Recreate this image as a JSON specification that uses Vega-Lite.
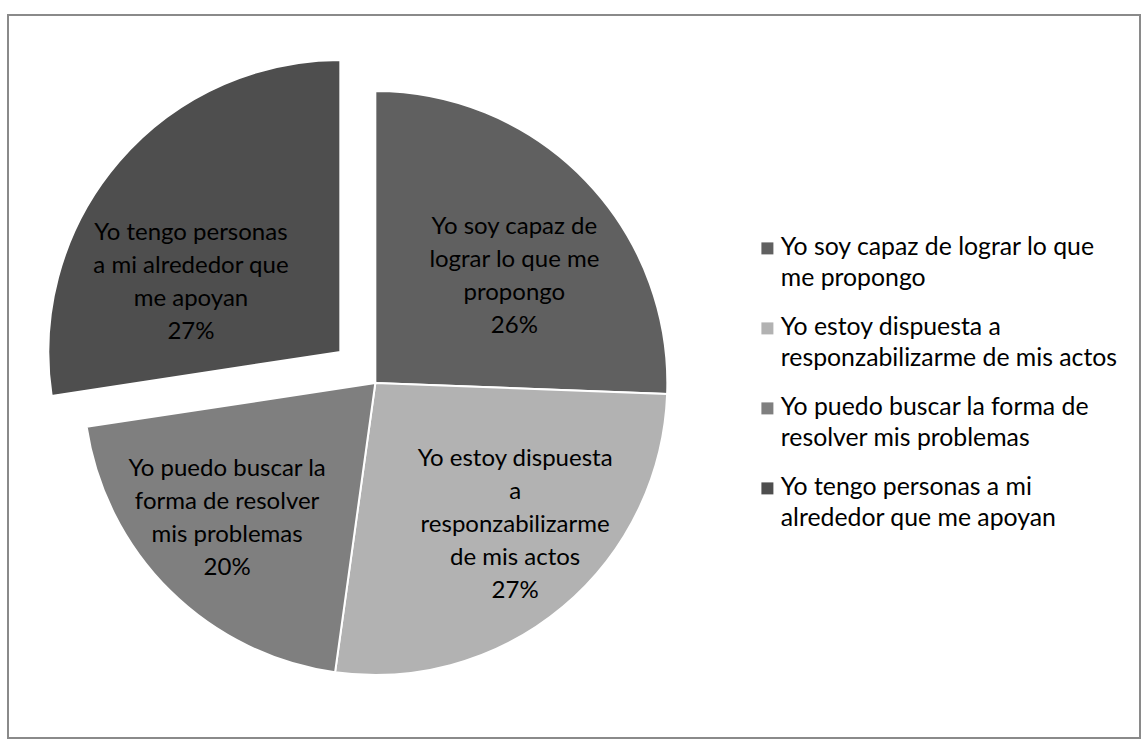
{
  "$schema": "https://vega.github.io/schema/vega-lite/v6.json",
  "width": 1148,
  "height": 753,
  "autosize": {"type": "fit", "contains": "padding"},
  "padding": {"left": 7, "top": 14, "right": 7, "bottom": 14},
  "background": "white",
  "config": {
    "view": {"stroke": null},
    "font": "Lato",
    "style": {"guide-label": {"lineHeight": 31}}
  },
  "data": {
    "values": [
      {"orden": 1, "categoria": "Yo soy capaz de lograr lo que\nme propongo", "valor": 25.6, "etiqueta": "Yo soy capaz de\nlograr lo que me\npropongo\n26%"},
      {"orden": 2, "categoria": "Yo estoy dispuesta a\nresponzabilizarme de mis actos", "valor": 26.6, "etiqueta": "Yo estoy dispuesta\na\nresponzabilizarme\nde mis actos\n27%"},
      {"orden": 3, "categoria": "Yo puedo buscar la forma de\nresolver mis problemas", "valor": 20.4, "etiqueta": "Yo puedo buscar la\nforma de resolver\nmis problemas\n20%"},
      {"orden": 4, "categoria": "Yo tengo personas a mi\nalrededor que me apoyan", "valor": 27.4, "etiqueta": "Yo tengo personas\na mi alrededor que\nme apoyan\n27%"}
    ]
  },
  "layer": [
    {
      "data": {"values": [{}]},
      "mark": {"type": "rect", "fill": "transparent", "stroke": "#8a8a8a", "strokeWidth": 2},
      "encoding": {
        "x": {"value": 0},
        "x2": {"value": "width"},
        "y": {"value": 0},
        "y2": {"value": "height"}
      }
    },
    {
      "mark": {"type": "arc", "outerRadius": 292, "stroke": "white", "strokeWidth": 2, "x": {"expr": "width*0.3245"}, "y": {"expr": "height*0.509"}},
      "encoding": {
        "theta": {"field": "valor", "type": "quantitative", "stack": true},
        "order": {"field": "orden", "type": "quantitative"},
        "color": {
          "field": "categoria", "type": "nominal",
          "scale": {
            "domain": ["Yo soy capaz de lograr lo que\nme propongo", "Yo estoy dispuesta a\nresponzabilizarme de mis actos", "Yo puedo buscar la forma de\nresolver mis problemas", "Yo tengo personas a mi\nalrededor que me apoyan"],
            "range": ["#606060", "#b2b2b2", "#7f7f7f", "#4e4e4e"]
          },
          "legend": {
            "orient": "none", "legendX": 747, "legendY": 221, "title": null, "padding": 0,
            "symbolType": "square", "symbolSize": 144, "symbolStrokeWidth": 0,
            "labelFontSize": 24.8, "labelFont": "Lato", "labelColor": "#000000", "labelLimit": 500,
            "labelOffset": 1, "labelBaseline": "middle", "rowPadding": 23,
            "labelExpr": "split(datum.label, '\\n')"
          }
        },
        "opacity": {"condition": {"test": "datum.orden == 4", "value": 0}, "value": 1}
      }
    },
    {
      "mark": {"type": "arc", "outerRadius": 292, "stroke": "white", "strokeWidth": 2, "x": {"expr": "width*0.3245"}, "y": {"expr": "height*0.509"}, "xOffset": -35, "yOffset": -31},
      "encoding": {
        "theta": {"field": "valor", "type": "quantitative", "stack": true},
        "order": {"field": "orden", "type": "quantitative"},
        "color": {
          "field": "categoria", "type": "nominal",
          "scale": {
            "domain": ["Yo soy capaz de lograr lo que\nme propongo", "Yo estoy dispuesta a\nresponzabilizarme de mis actos", "Yo puedo buscar la forma de\nresolver mis problemas", "Yo tengo personas a mi\nalrededor que me apoyan"],
            "range": ["#606060", "#b2b2b2", "#7f7f7f", "#4e4e4e"]
          }
        },
        "opacity": {"condition": {"test": "datum.orden == 4", "value": 1}, "value": 0}
      }
    },
    {
      "mark": {"type": "text", "radius": 175, "dx": 13, "dy": -35, "x": {"expr": "width*0.3245"}, "y": {"expr": "height*0.509"}, "fontSize": 24, "lineHeight": 33, "lineBreak": "\n", "align": "center", "baseline": "middle", "color": "#000000"},
      "encoding": {
        "theta": {"field": "valor", "type": "quantitative", "stack": true},
        "order": {"field": "orden", "type": "quantitative"},
        "text": {"field": "etiqueta"},
        "opacity": {"condition": {"test": "datum.orden == 1", "value": 1}, "value": 0}
      }
    },
    {
      "mark": {"type": "text", "radius": 199, "dx": 12, "dy": -77, "x": {"expr": "width*0.3245"}, "y": {"expr": "height*0.509"}, "fontSize": 24, "lineHeight": 33, "lineBreak": "\n", "align": "center", "baseline": "middle", "color": "#000000"},
      "encoding": {
        "theta": {"field": "valor", "type": "quantitative", "stack": true},
        "order": {"field": "orden", "type": "quantitative"},
        "text": {"field": "etiqueta"},
        "opacity": {"condition": {"test": "datum.orden == 2", "value": 1}, "value": 0}
      }
    },
    {
      "mark": {"type": "text", "radius": 201, "dx": -7, "dy": -57, "x": {"expr": "width*0.3245"}, "y": {"expr": "height*0.509"}, "fontSize": 24, "lineHeight": 33, "lineBreak": "\n", "align": "center", "baseline": "middle", "color": "#000000"},
      "encoding": {
        "theta": {"field": "valor", "type": "quantitative", "stack": true},
        "order": {"field": "orden", "type": "quantitative"},
        "text": {"field": "etiqueta"},
        "opacity": {"condition": {"test": "datum.orden == 3", "value": 1}, "value": 0}
      }
    },
    {
      "mark": {"type": "text", "radius": 164, "dx": -25, "dy": -12, "x": {"expr": "width*0.3245"}, "y": {"expr": "height*0.509"}, "xOffset": -35, "yOffset": -31, "fontSize": 24, "lineHeight": 33, "lineBreak": "\n", "align": "center", "baseline": "middle", "color": "#000000"},
      "encoding": {
        "theta": {"field": "valor", "type": "quantitative", "stack": true},
        "order": {"field": "orden", "type": "quantitative"},
        "text": {"field": "etiqueta"},
        "opacity": {"condition": {"test": "datum.orden == 4", "value": 1}, "value": 0}
      }
    }
  ]
}
